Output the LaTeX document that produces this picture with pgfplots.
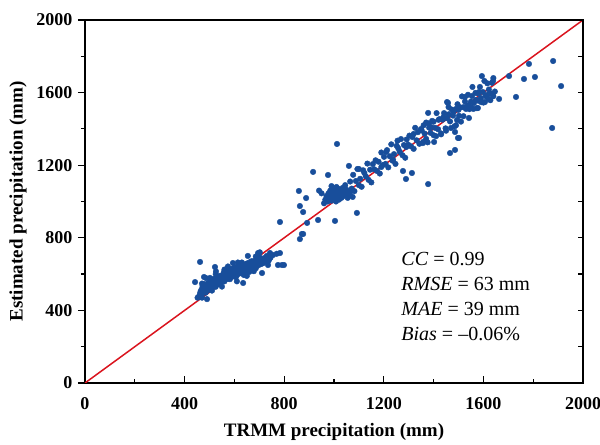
\documentclass[border=0pt]{standalone}
\usepackage{fontspec}
\setmainfont{Liberation Serif}
\usepackage{pgfplots}
\pgfplotsset{compat=1.18}
\usepackage{pgfplotstable}
\definecolor{ptblue}{RGB}{24,78,155}
\definecolor{lred}{RGB}{218,20,30}
\pgfplotstableread{
x y
452 470
458 478
462 495
465 508
468 488
470 520
472 535
475 502
478 515
480 545
482 528
485 498
488 540
490 522
492 510
495 550
497 535
500 518
502 560
505 540
507 528
510 552
512 565
515 538
517 548
520 575
522 555
525 530
527 568
530 545
532 580
535 560
537 548
540 572
542 590
545 565
547 555
550 585
552 570
555 600
557 578
560 560
562 592
565 610
567 585
570 572
572 600
575 620
577 590
580 578
582 605
585 628
587 598
590 585
592 615
595 600
597 632
600 590
602 620
605 608
607 640
610 595
612 625
615 612
617 645
620 603
622 630
625 618
627 650
630 612
632 638
635 625
637 600
640 645
642 630
645 655
648 618
650 640
653 660
655 628
658 645
660 612
663 650
665 668
668 635
670 655
673 622
675 662
678 640
680 672
683 650
686 632
690 665
693 680
696 648
700 670
703 690
706 655
710 675
715 660
720 688
725 670
730 700
738 675
745 690
755 705
770 712
735 650
462 667
442 556
478 584
522 639
594 661
635 551
695 716
711 606
743 716
783 716
775 650
791 650
799 650
525 600
560 625
610 560
650 590
490 462
470 470
470 548
478 498
486 578
494 529
502 579
510 509
518 560
526 615
534 545
542 586
550 531
558 611
566 582
574 642
582 572
590 613
598 633
606 583
614 664
622 614
630 664
638 595
646 645
654 700
662 631
670 671
678 616
686 697
694 667
702 720
710 658
}\lowdata
\pgfplotstableread{
x y
863 793
871 821
876 821
783 887
863 975
876 942
892 882
888 1019
859 1058
936 898
1004 893
1092 937
916 1163
976 1146
1012 1317
1060 1196
1100 1179
960 990
965 1010
970 1030
975 1000
978 1045
982 1020
985 1060
988 1035
990 1005
993 1050
995 1075
998 1025
1000 1040
1002 1065
1005 1015
1008 1055
1010 1080
1012 1030
1015 1045
1018 1070
1020 1010
1022 1050
1025 1035
1028 1062
1030 1020
1033 1048
1035 1075
1038 1030
1040 1055
1045 1040
1050 1065
1055 1020
1060 1050
1065 1035
1070 1060
1075 1025
1008 1000
990 1085
1045 1090
950 1045
940 1060
1065 1110
1071 1071
1077 1147
1082 1057
1088 1113
1094 1179
1100 1090
1105 1125
1111 1081
1117 1172
1122 1157
1128 1138
1134 1209
1139 1119
1145 1175
1150 1105
1156 1206
1162 1177
1167 1227
1173 1168
1179 1219
1184 1154
1190 1270
1196 1201
1201 1246
1207 1207
1213 1283
1218 1188
1224 1249
1230 1315
1235 1225
1241 1261
1247 1207
1252 1307
1258 1293
1264 1274
1269 1344
1275 1255
1281 1311
1286 1241
1292 1342
1298 1313
1303 1363
1309 1304
1315 1355
1320 1290
1326 1406
1332 1337
1337 1382
1343 1318
1349 1399
1190 1190
1210 1273
1237 1230
1255 1335
1290 1300
1320 1372
}\middata
\pgfplotstableread{
x y
1350 1395
1360 1420
1370 1345
1380 1430
1390 1410
1400 1440
1410 1360
1420 1450
1430 1375
1440 1465
1450 1390
1460 1480
1470 1405
1480 1495
1490 1420
1500 1505
1510 1440
1520 1520
1530 1510
1540 1530
1550 1520
1560 1510
1570 1560
1580 1555
1590 1570
1600 1545
1610 1580
1620 1565
1630 1595
1640 1580
1352 1392
1358 1328
1364 1374
1370 1435
1376 1326
1382 1407
1388 1378
1394 1444
1400 1365
1406 1406
1412 1487
1418 1398
1424 1454
1430 1370
1436 1451
1442 1487
1448 1403
1454 1459
1460 1520
1466 1441
1472 1507
1478 1473
1484 1414
1490 1510
1496 1536
1502 1472
1508 1518
1514 1579
1520 1470
1526 1551
1532 1522
1538 1588
1544 1509
1550 1550
1556 1631
1562 1542
1568 1598
1574 1514
1580 1595
1586 1631
1592 1547
1598 1603
1604 1664
1610 1585
1616 1651
1622 1617
1628 1558
1634 1654
1640 1680
1646 1606
1277 1168
1313 1157
1289 1124
1378 1096
1466 1267
1486 1284
1498 1350
1486 1383
1458 1543
1402 1328
1357 1322
1378 1488
1594 1691
1639 1664
1703 1691
1783 1758
1763 1675
1807 1686
1880 1774
1912 1636
1876 1405
1663 1565
1731 1576
1622 1592
1582 1603
1606 1548
1554 1581
1526 1576
1454 1548
1578 1515
1542 1460
1494 1449
1502 1350
}\highdata
\begin{document}
\begin{tikzpicture}
\begin{axis}[
  scale only axis, width=498pt, height=363pt,
  xmin=0, xmax=2000, ymin=0, ymax=2000,
  xtick={0,400,...,2000}, ytick={0,400,...,2000},
  minor xtick={200,600,...,1800}, minor ytick={200,600,...,1800},
  xtick pos=bottom, ytick pos=left,
  xtick align=inside, ytick align=outside,
  major tick length=7pt, minor tick length=4pt,
  every tick/.style={black, line width=1.2pt},
  axis line style={line width=1.5pt},
  tick label style={font=\fontsize{18}{20}\selectfont\bfseries},
  xticklabel style={yshift=-11pt},
  yticklabel style={xshift=-2pt},
  /pgf/number format/assume math mode=true,
  /pgf/number format/1000 sep={},
  xlabel={TRMM precipitation (mm)},
  ylabel={Estimated precipitation (mm)},
  label style={font=\fontsize{19}{21}\selectfont\bfseries},
  xlabel style={at={(axis description cs:0.5,-0.135)}, anchor=center},
  ylabel style={at={(axis description cs:-0.1345,0.5)}, anchor=center},
  clip=true,
]
\addplot[only marks, mark=*, mark size=2.8pt, color=ptblue, mark options={draw=ptblue, fill=ptblue}] table[x=x,y=y] {\lowdata};
\addplot[only marks, mark=*, mark size=2.8pt, color=ptblue, mark options={draw=ptblue, fill=ptblue}] table[x=x,y=y] {\middata};
\addplot[only marks, mark=*, mark size=2.8pt, color=ptblue, mark options={draw=ptblue, fill=ptblue}] table[x=x,y=y] {\highdata};
\addplot[lred, line width=1.5pt] coordinates {(0,0) (2000,2000)};
\node[anchor=north west, align=left, font=\fontsize{20}{25}\selectfont, inner sep=0pt] at (axis cs:1270,720)
  {\textit{CC} = 0.99\\ \textit{RMSE} = 63 mm\\ \textit{MAE} = 39 mm\\ \textit{Bias} = \textendash0.06\%};
\coordinate (bl) at (rel axis cs:0,0);
\coordinate (tr) at (rel axis cs:1,1);
\end{axis}
\begin{axis}[
  scale only axis, width=498pt, height=363pt,
  xmin=0, xmax=2000, ymin=0, ymax=2000,
  hide x axis, axis y line*=right,
  ytick={0,400,...,2000}, minor ytick={200,600,...,1800},
  yticklabels={}, ytick align=inside,
  major tick length=5pt, minor tick length=5pt,
  every tick/.style={black, line width=1.2pt},
  axis line style={line width=1.5pt},
]
\end{axis}
\pgfresetboundingbox
\path[use as bounding box] ([shift={(-85pt,-62pt)}]bl) rectangle ([shift={(17pt,20pt)}]tr);
\end{tikzpicture}
\end{document}
